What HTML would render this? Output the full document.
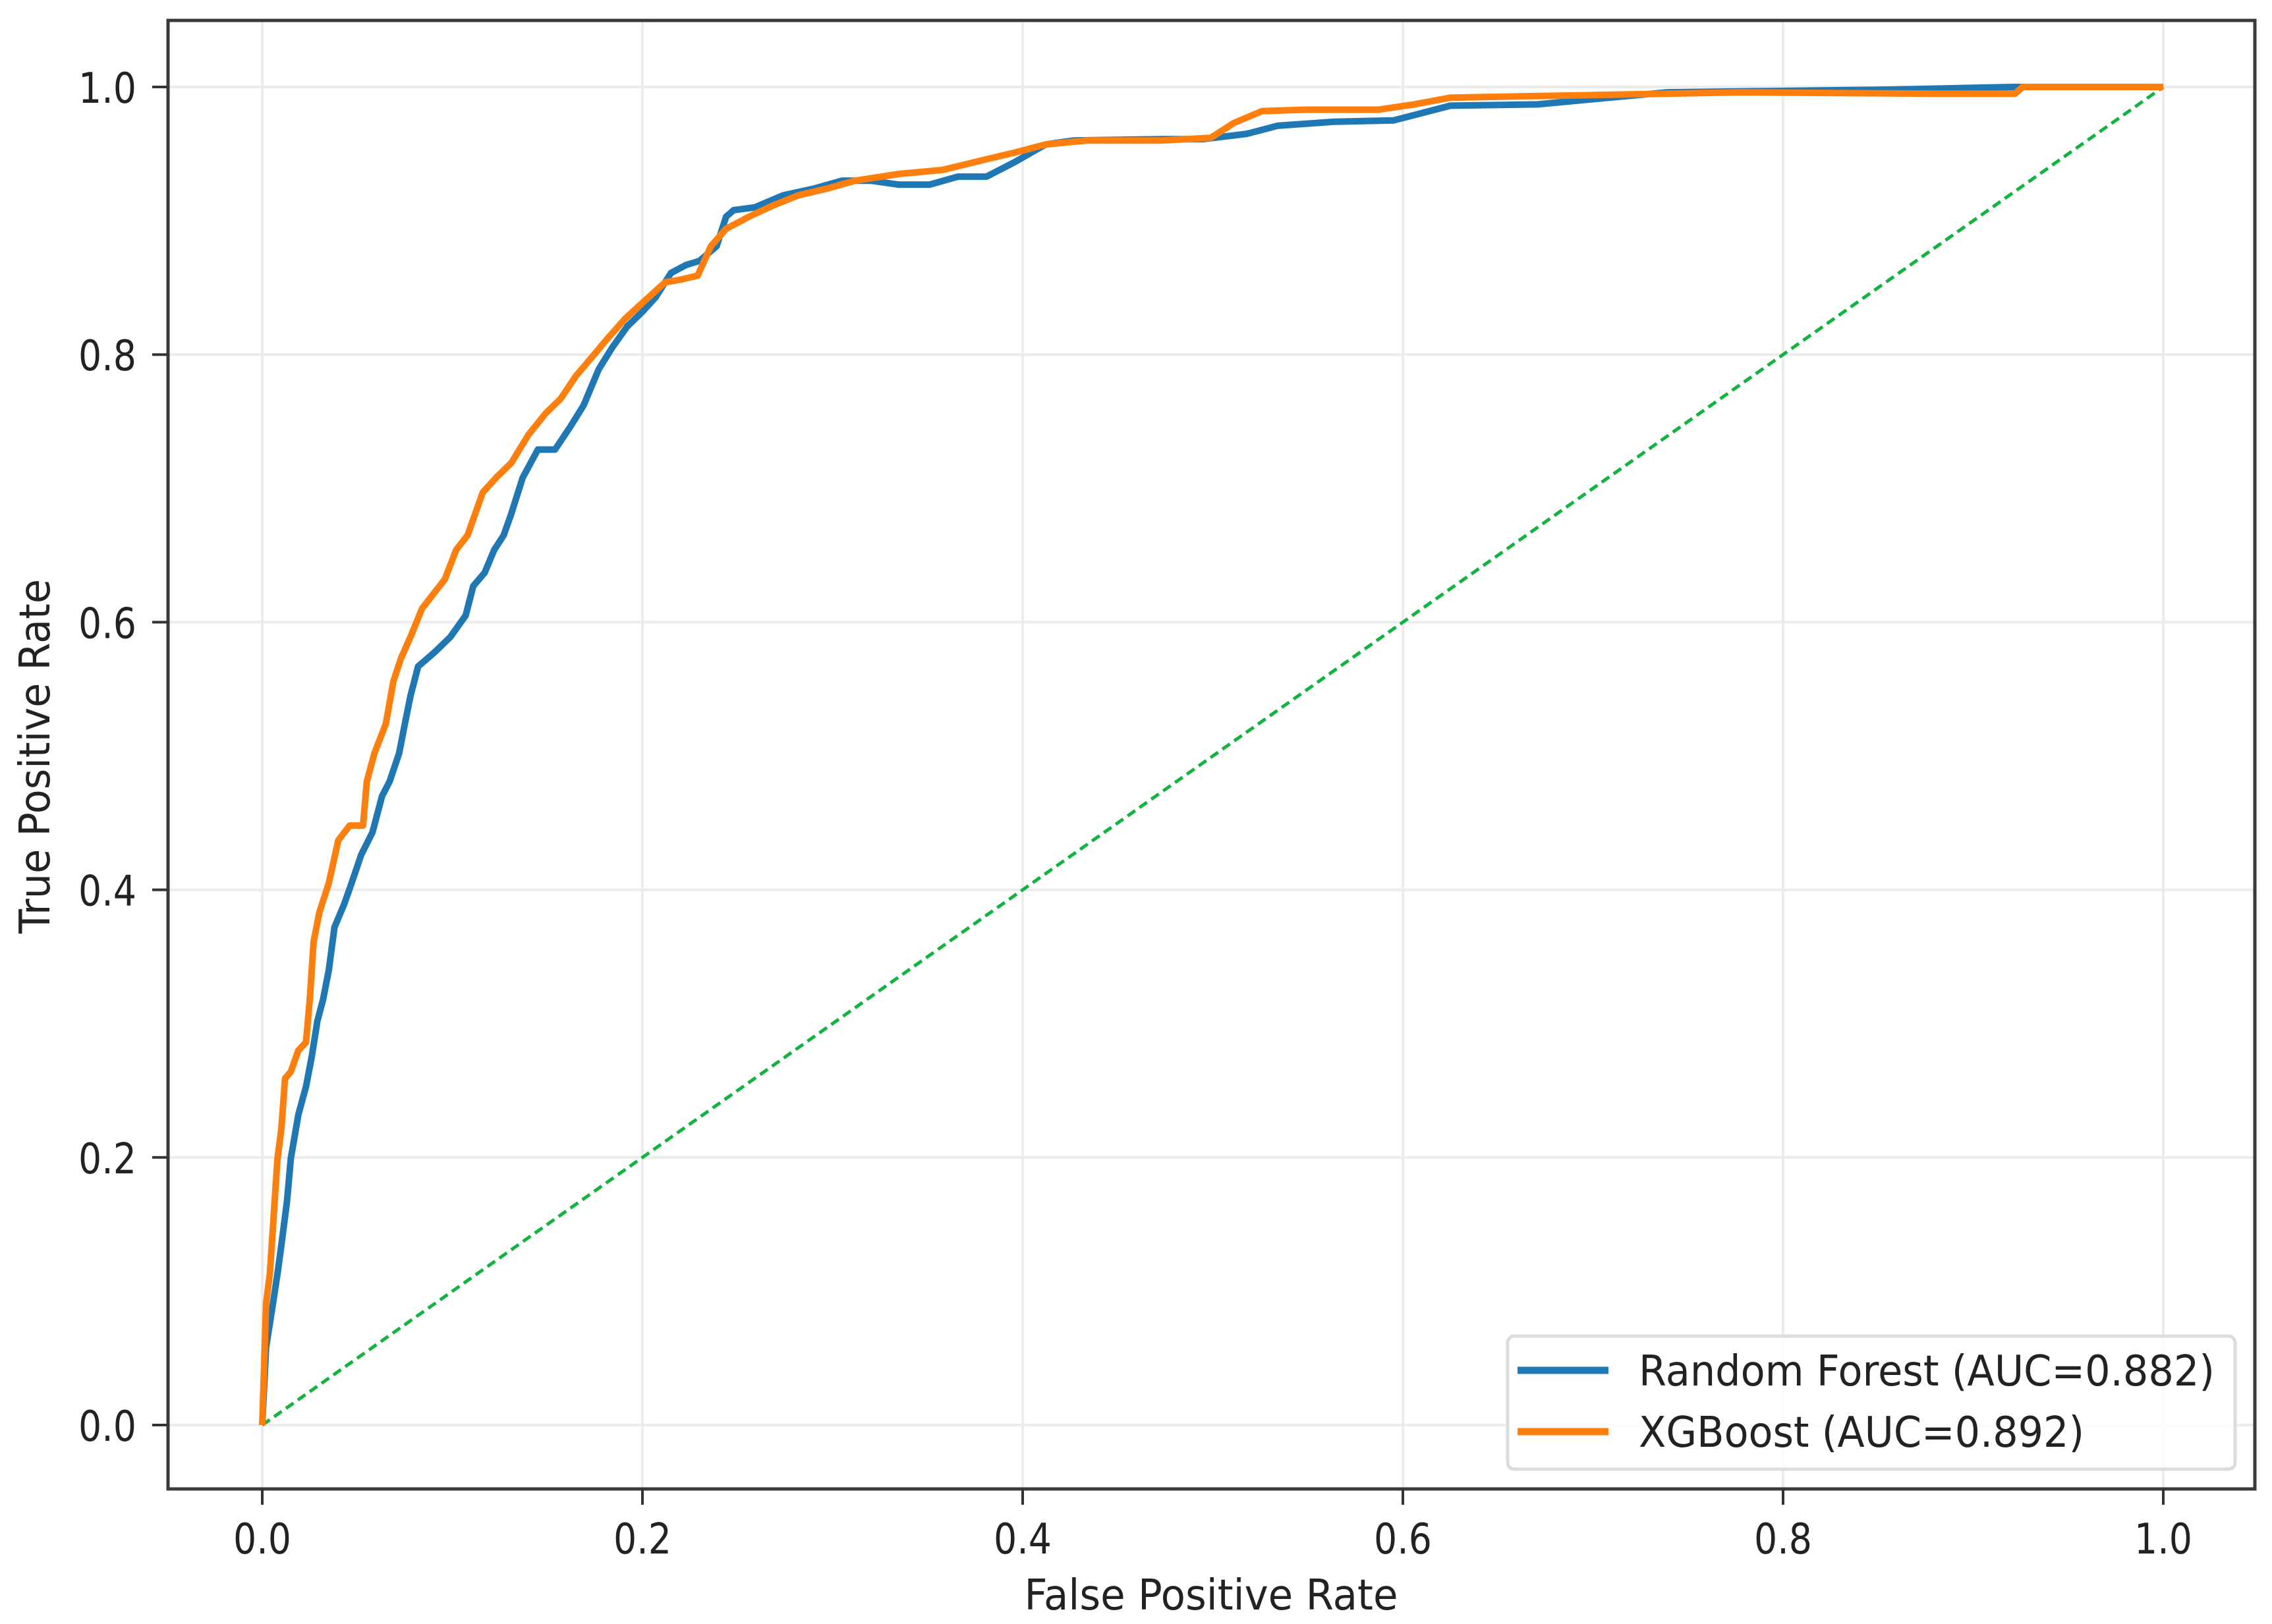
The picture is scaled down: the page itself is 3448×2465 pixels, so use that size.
<!DOCTYPE html>
<html><head><meta charset="utf-8"><style>
html,body{margin:0;padding:0;background:#fff}
svg{display:block}
text{font-family:"DejaVu Sans","Liberation Sans",sans-serif;fill:#222}
</style></head><body>
<svg id="chart" width="3448" height="2465" viewBox="0 0 3448 2465" xmlns="http://www.w3.org/2000/svg">
<rect x="0" y="0" width="3448" height="2465" fill="#fff"/>
<g id="grid"></g>
<g id="marks"></g>
<rect x="255" y="31" width="3167" height="2229" fill="none" stroke="#3a3a3a" stroke-width="5"/>
<g id="ticks"></g>
<text x="1838" y="2443" font-size="64" text-anchor="middle" textLength="567" lengthAdjust="spacingAndGlyphs">False Positive Rate</text>
<text transform="translate(75,1148) rotate(-90)" font-size="64" text-anchor="middle" textLength="538" lengthAdjust="spacingAndGlyphs">True Positive Rate</text>
<g>
<rect x="2288" y="2028" width="1104" height="202" rx="10" fill="#fff" fill-opacity="0.85" stroke="#dcdcdc" stroke-width="5"/>
<line x1="2303" y1="2080" x2="2441" y2="2080" stroke="#1f77b4" stroke-width="11"/>
<text x="2487" y="2103" font-size="64" textLength="874" lengthAdjust="spacingAndGlyphs">Random Forest (AUC=0.882)</text>
<line x1="2303" y1="2173" x2="2441" y2="2173" stroke="#ff7f0e" stroke-width="11"/>
<text x="2487" y="2196" font-size="64" textLength="676" lengthAdjust="spacingAndGlyphs">XGBoost (AUC=0.892)</text>
</g>
</svg>
<script>
const xTicks = [0, 0.2, 0.4, 0.6, 0.8, 1.0];
const yTicks = [0, 0.2, 0.4, 0.6, 0.8, 1.0];
const xTickLabels = ["0.0","0.2","0.4","0.6","0.8","1.0"];
const yTickLabels = ["0.0","0.2","0.4","0.6","0.8","1.0"];
const rfFpr = [0,.002,.005,.008,.010,.013,.015,.019,.023,.026,.029,.032,.035,.038,.043,.047,.052,.058,.063,.067,.072,.075,.078,.082,.087,.091,.099,.107,.111,.117,.122,.127,.131,.137,.145,.154,.162,.169,.177,.184,.192,.200,.207,.215,.223,.230,.239,.244,.248,.259,.274,.290,.305,.320,.335,.351,.366,.381,.396,.412,.427,.473,.495,.518,.534,.564,.595,.625,.671,.701,.739,.854,.922,1];
const rfTpr = [0,.058,.085,.113,.134,.167,.199,.232,.253,.275,.302,.318,.340,.372,.389,.405,.426,.443,.470,.481,.502,.524,.545,.567,.573,.578,.589,.605,.627,.637,.654,.665,.681,.708,.729,.729,.746,.762,.789,.805,.821,.832,.843,.861,.867,.870,.881,.903,.908,.910,.919,.924,.930,.930,.927,.927,.933,.933,.944,.957,.960,.961,.961,.965,.971,.974,.975,.986,.987,.991,.996,.998,1,1];
const xgbFpr = [0,.002,.004,.006,.008,.010,.012,.015,.019,.023,.025,.027,.030,.035,.040,.046,.053,.055,.059,.065,.069,.073,.078,.084,.090,.096,.102,.108,.116,.123,.131,.140,.149,.157,.165,.171,.181,.191,.201,.212,.220,.229,.236,.244,.256,.268,.282,.297,.312,.335,.358,.381,.396,.412,.434,.473,.499,.511,.526,.549,.587,.606,.625,.701,.777,.877,.922,.926,1];
const xgbTpr = [0,.091,.113,.156,.199,.221,.259,.264,.280,.286,.318,.361,.383,.405,.437,.448,.448,.481,.502,.524,.556,.573,.589,.610,.621,.632,.654,.665,.697,.708,.719,.740,.756,.767,.784,.794,.811,.827,.840,.854,.856,.859,.881,.894,.903,.911,.919,.924,.930,.935,.938,.946,.951,.957,.960,.960,.962,.973,.982,.983,.983,.987,.992,.994,.996,.995,.995,1,1];
const chanceX = [0, 1];
const chanceY = [0, 1];

const NS = "http://www.w3.org/2000/svg";
const X0 = 398, XW = 2885, Y0 = 2163, YH = 2031;
function sx(v){ return X0 + v * XW; }
function sy(v){ return Y0 - v * YH; }
function mk(tag, attrs, parent){
  const el = document.createElementNS(NS, tag);
  for (const k in attrs) el.setAttribute(k, attrs[k]);
  parent.appendChild(el);
  return el;
}
const grid = document.getElementById('grid');
const ticks = document.getElementById('ticks');
const marks = document.getElementById('marks');

xTicks.forEach((v, i) => {
  const g = mk('line', {x1: sx(v), y1: 31, x2: sx(v), y2: 2260, stroke: '#ececec', 'stroke-width': 4}, grid);
  
  
  const t = mk('line', {x1: sx(v), y1: 2260, x2: sx(v), y2: 2284, stroke: '#333', 'stroke-width': 4}, ticks);
  
  
  const l = mk('text', {x: sx(v), y: 2358, 'font-size': 64, 'text-anchor': 'middle', textLength: 88, lengthAdjust: 'spacingAndGlyphs'}, ticks);
  l.textContent = xTickLabels[i];
  
  
});
yTicks.forEach((v, i) => {
  const g = mk('line', {x1: 255, y1: sy(v), x2: 3422, y2: sy(v), stroke: '#ececec', 'stroke-width': 4}, grid);
  
  
  const t = mk('line', {x1: 231, y1: sy(v), x2: 255, y2: sy(v), stroke: '#333', 'stroke-width': 4}, ticks);
  
  
  const l = mk('text', {x: 207, y: sy(v) + 24, 'font-size': 64, 'text-anchor': 'end', textLength: 88, lengthAdjust: 'spacingAndGlyphs'}, ticks);
  l.textContent = yTickLabels[i];
  
  
});

function pts(xs, ys){ return xs.map((x, i) => sx(x).toFixed(1) + ',' + sy(ys[i]).toFixed(1)).join(' '); }

const ch = mk('polyline', {points: pts(chanceX, chanceY), fill: 'none', stroke: '#12b33f', 'stroke-width': 5, 'stroke-dasharray': '14 8'}, marks);


const rf = mk('polyline', {points: pts(rfFpr, rfTpr), fill: 'none', stroke: '#1f77b4', 'stroke-width': 10, 'stroke-linejoin': 'round'}, marks);


const xg = mk('polyline', {points: pts(xgbFpr, xgbTpr), fill: 'none', stroke: '#ff7f0e', 'stroke-width': 10, 'stroke-linejoin': 'round'}, marks);


</script>
</body></html>
